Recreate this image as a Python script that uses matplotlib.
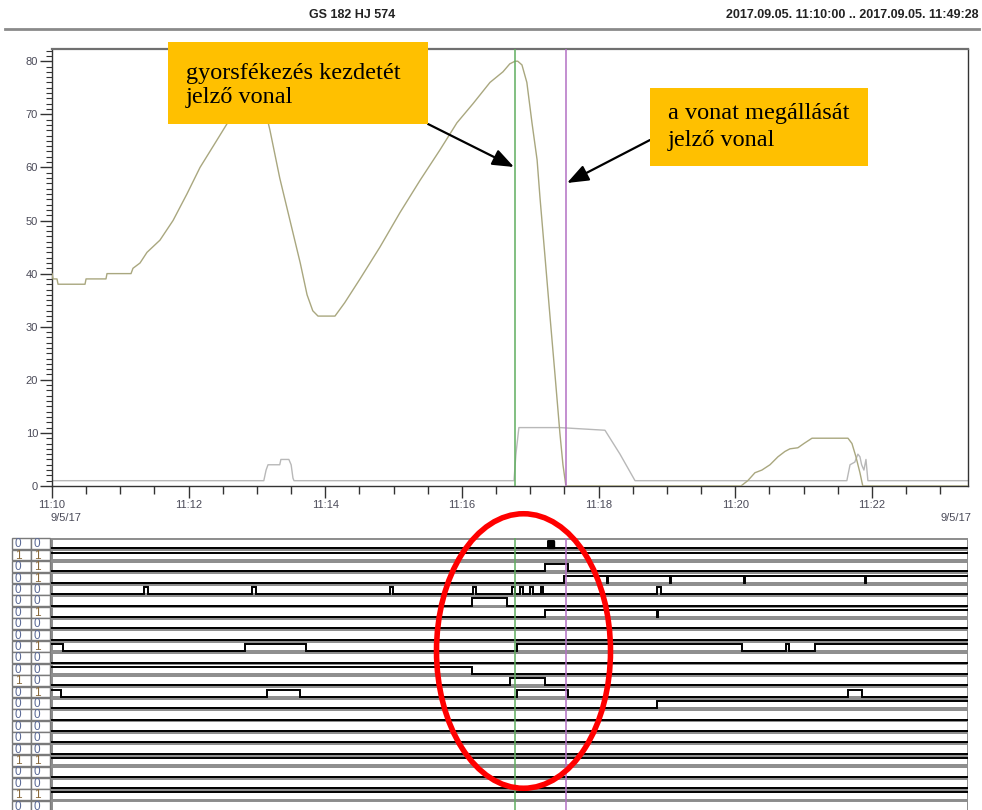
import matplotlib
matplotlib.use("Agg")
import matplotlib.pyplot as plt
from matplotlib.patches import Rectangle, Ellipse
from matplotlib.lines import Line2D
import numpy as np

plt.rcParams['font.family'] = ['Liberation Sans', 'DejaVu Sans']

# ---------------- data (time in seconds after 11:10:00) ----------------
speed_t = [0, 0.9, 4.4, 5.3, 29, 29.9, 47.4, 48.3, 69.4, 71.1, 77.3, 83.4, 94.8, 106.3,
           118.5, 130, 143, 154.5, 165, 174, 181, 187, 191.4, 200, 209, 218, 224, 229,
           233.6, 248.5, 257, 270.5, 288, 305.6, 323, 340.7, 355.6, 369.7, 384.6, 396,
           402, 406.6, 409, 412.7, 417, 421.5, 426, 428.5, 433, 437.3, 441.7, 446, 448.7,
           451.3, 605, 611, 617.3, 623.4, 630.5, 637.5, 643.6, 648, 655, 660.3, 667.4,
           699, 702.5, 706, 709.5, 712, 804]
speed_v = [40, 39, 39, 38, 38, 39, 39, 40, 40, 41, 42, 44, 46.3, 50,
           55, 60, 64.5, 68.5, 72, 73.5, 73, 71, 67, 58, 50, 42, 36, 33,
           32, 32, 34.5, 39, 45, 51.5, 57.5, 63.3, 68.4, 72, 76, 78,
           79.5, 80, 80, 79.3, 76, 68.4, 61.4, 54.4, 43, 32, 21, 10, 4,
           0, 0, 1, 2.5, 3, 4, 5.5, 6.5, 7, 7.2, 8, 9,
           9, 8, 5.5, 2.5, 0, 0]

press_t = [0, 186, 188, 189.7, 200, 201, 208, 210, 211.6, 212.5, 405.7, 407.4, 410,
           446, 485.6, 498.8, 512, 698, 700.8, 705, 707.7, 709.5, 711, 713, 714.8,
           716.5, 804]
press_v = [1, 1, 3, 4, 4, 5, 5, 4, 1.5, 1, 1, 6, 11,
           11, 10.5, 6, 1, 1, 4, 4.5, 6, 5.5, 4, 3, 5,
           1, 1]

x_major_s = [0, 120, 240, 360, 480, 600, 720]
x_tick_labels = ["11:10", "11:12", "11:14", "11:16", "11:18", "11:20", "11:22"]
y_major = [0, 10, 20, 30, 40, 50, 60, 70, 80]
x_end_s = 804.4
cursor1_s = 406.5   # start of emergency braking
cursor2_s = 451.0   # train stopped

header_left = "GS 182 HJ 574"
header_right = "2017.09.05. 11:10:00 .. 2017.09.05. 11:49:28"
date_label = "9/5/17"
note1 = ["gyorsfékezés kezdetét", "jelző vonal"]
note2 = ["a vonat megállását", "jelző vonal"]

# digital channels: values at cursor1/cursor2 and high intervals (s)
row_values = ["00", "11", "01", "01", "00", "00", "01", "00", "00", "01", "00", "00",
              "10", "01", "00", "00", "00", "00", "00", "11", "00", "00", "11", "00"]
row_high = [
    [],
    [(0, 804.4)],
    [(433, 453)],
    [(450, 487), (488, 542.6), (543.5, 607.6), (608.5, 714), (715, 804.4)],
    [(81, 84), (175.6, 179), (297, 299.5), (370, 372.5), (404, 406.5), (411, 413.5),
     (420, 422), (429, 431), (531, 535)],
    [(369, 400)],
    [(433, 531), (532, 804.4)],
    [],
    [],
    [(0, 10), (169.5, 223), (408, 606), (645, 647), (670, 804.4)],
    [],
    [(0, 369)],
    [(402, 433)],
    [(0, 8), (189, 218), (408, 453), (699, 711)],
    [(531, 804.4)],
    [], [], [], [],
    [(0, 804.4)],
    [], [],
    [(0, 804.4)],
    [],
]
row_burst = [(0, 435.5, 441)]

# ---------------- layout ----------------
W, H = 982, 810
fig = plt.figure(figsize=(W / 100, H / 100), dpi=100)


def fx(px):
    return px / W


def fy(py):
    return 1 - py / H


AX_L, AX_R, AX_T, AX_B = 52, 968, 49, 486
ax = fig.add_axes([fx(AX_L), fy(AX_B), fx(AX_R) - fx(AX_L), fy(AX_T) - fy(AX_B)])
ax.plot(press_t, press_v, color='#b8b8b8', lw=1.0, zorder=2)
ax.plot(speed_t, speed_v, color='#a9a77f', lw=1.0, zorder=3)
ax.axvline(cursor1_s, color='#5fae5f', lw=1.1, zorder=4)
ax.axvline(cursor2_s, color='#b370c4', lw=1.1, zorder=4)
ax.set_xlim(0, x_end_s)
ax.set_ylim(0, 82.3)
ax.set_xticks(x_major_s)
ax.set_xticklabels(x_tick_labels)
ax.set_xticks(np.arange(0, x_end_s, 30), minor=True)
ax.set_yticks(y_major)
ax.set_yticks(np.arange(0, 83, 1), minor=True)
ax.tick_params(which='major', direction='out', length=8.5, width=1.0, color='#333333',
               labelsize=8, labelcolor='#4a4a58', pad=1.5)
ax.tick_params(axis='y', which='minor', direction='out', length=4, width=0.8, color='#333333')
ax.tick_params(axis='x', which='minor', direction='out', length=5.5, width=1.0, color='#333333')
for s in ['left', 'bottom', 'right']:
    ax.spines[s].set_color('#333333')
    ax.spines[s].set_linewidth(1.0)
ax.spines['top'].set_color('#707070')
ax.spines['top'].set_linewidth(1.6)

# dates
fig.text(fx(66), fy(518), date_label, ha='center', va='center', fontsize=8, color='#4a4a58')
fig.text(fx(956), fy(518), date_label, ha='center', va='center', fontsize=8, color='#4a4a58')

# header
fig.text(fx(352), fy(15), header_left, ha='center', va='center', fontsize=9,
         weight='bold', color='#222222')
fig.text(fx(978), fy(15), header_right, ha='right', va='center', fontsize=9,
         weight='bold', color='#222222')
fig.add_artist(Line2D([fx(5), fx(979)], [fy(28.5), fy(28.5)], color='#8a8a8a', lw=2.0))

# ---------------- digital panel ----------------
PANEL_T = 538
PITCH = 11.41
DL = 11
s_per_px = x_end_s / (AX_R - AX_L)
dax = fig.add_axes([fx(DL), 0, fx(AX_R) - fx(DL), fy(PANEL_T)])
dax.set_xlim(-(AX_L - DL) * s_per_px, x_end_s)
dax.set_ylim((H - PANEL_T) / PITCH, 0)
dax.axis('off')

c1a, c1b = -(AX_L - 12) * s_per_px, -(AX_L - 31) * s_per_px
c2a, c2b = c1b, -(AX_L - 50) * s_per_px
for k, (vals, highs) in enumerate(zip(row_values, row_high)):
    dax.add_patch(Rectangle((0, k + 0.08), x_end_s, 0.84, fc='white', ec='#8c8c8c',
                            lw=1.4, zorder=1))
    for (a, b) in [(c1a, c1b), (c2a, c2b)]:
        dax.add_patch(Rectangle((a, k + 0.03), b - a, 0.94, fc='white', ec='#7a7a7a',
                                lw=1.0, zorder=1, clip_on=False))
    for ch, xc in zip(vals, [c1a + 0.32 * (c1b - c1a), c2a + 0.32 * (c2b - c2a)]):
        dax.text(xc, k + 0.55, ch, ha='center', va='center', fontsize=8.5,
                 color='#5b6a96' if ch == '0' else '#8a6a3c', zorder=3)
    hi, lo = k + 0.30, k + 0.92
    xs, ys = [], []
    cur_start = 0
    if highs and highs[0][0] <= 0:
        xs, ys = [0], [hi]
    else:
        xs, ys = [0], [lo]
    for (a, b) in highs:
        if a > 0:
            xs += [a, a]
            ys += [lo, hi]
        if b < x_end_s:
            xs += [b, b]
            ys += [hi, lo]
        else:
            xs += [b]
            ys += [hi]
    if xs[-1] < x_end_s:
        xs.append(x_end_s)
        ys.append(ys[-1])
    dax.plot(xs, ys, color='black', lw=1.4, zorder=2, solid_joinstyle='miter')

for (k, a, b) in row_burst:
    dax.fill_between([a, b], k + 0.30, k + 0.92, color='black', zorder=2)
    dax.plot([a, a, b, b], [k + 0.92, k + 0.30, k + 0.30, k + 0.92], color='black',
             lw=1.4, zorder=2)

dax.axvline(cursor1_s, color='#5fae5f', lw=1.1, zorder=4)
dax.axvline(cursor2_s, color='#b370c4', lw=1.1, zorder=4)

# red ellipse
ecx = (523.5 - AX_L) * s_per_px
ecy = (651 - PANEL_T) / PITCH
dax.add_patch(Ellipse((ecx, ecy), 174 * s_per_px, 274.5 / PITCH, fill=False,
                      ec='#ff0000', lw=4.0, zorder=10, clip_on=False))

# ---------------- annotations ----------------
fig.add_artist(Rectangle((fx(168), fy(124)), fx(428) - fx(168), fy(42) - fy(124),
                         transform=fig.transFigure, fc='#ffc000', ec='none', zorder=20))
fig.add_artist(Rectangle((fx(650), fy(166)), fx(868) - fx(650), fy(88) - fy(166),
                         transform=fig.transFigure, fc='#ffc000', ec='none', zorder=20))
serif = ['Liberation Serif', 'DejaVu Serif']
fig.text(fx(186), fy(79), note1[0], ha='left', va='baseline', fontsize=17.5,
         family=serif, color='black', zorder=21)
fig.text(fx(186), fy(103), note1[1], ha='left', va='baseline', fontsize=17.5,
         family=serif, color='black', zorder=21)
fig.text(fx(668), fy(119), note2[0], ha='left', va='baseline', fontsize=17.5,
         family=serif, color='black', zorder=21)
fig.text(fx(668), fy(146), note2[1], ha='left', va='baseline', fontsize=17.5,
         family=serif, color='black', zorder=21)

arrow_kw = dict(arrowstyle='-|>,head_length=0.65,head_width=0.25', color='black',
                lw=1.6, mutation_scale=20, shrinkA=0, shrinkB=0)
ax.annotate('', xy=(514, H - 167), xytext=(428, H - 124), xycoords='figure pixels',
            textcoords='figure pixels', arrowprops=arrow_kw, zorder=22)
ax.annotate('', xy=(567, H - 183), xytext=(650, H - 140), xycoords='figure pixels',
            textcoords='figure pixels', arrowprops=arrow_kw, zorder=22)

fig.savefig('out.png', dpi=100)
